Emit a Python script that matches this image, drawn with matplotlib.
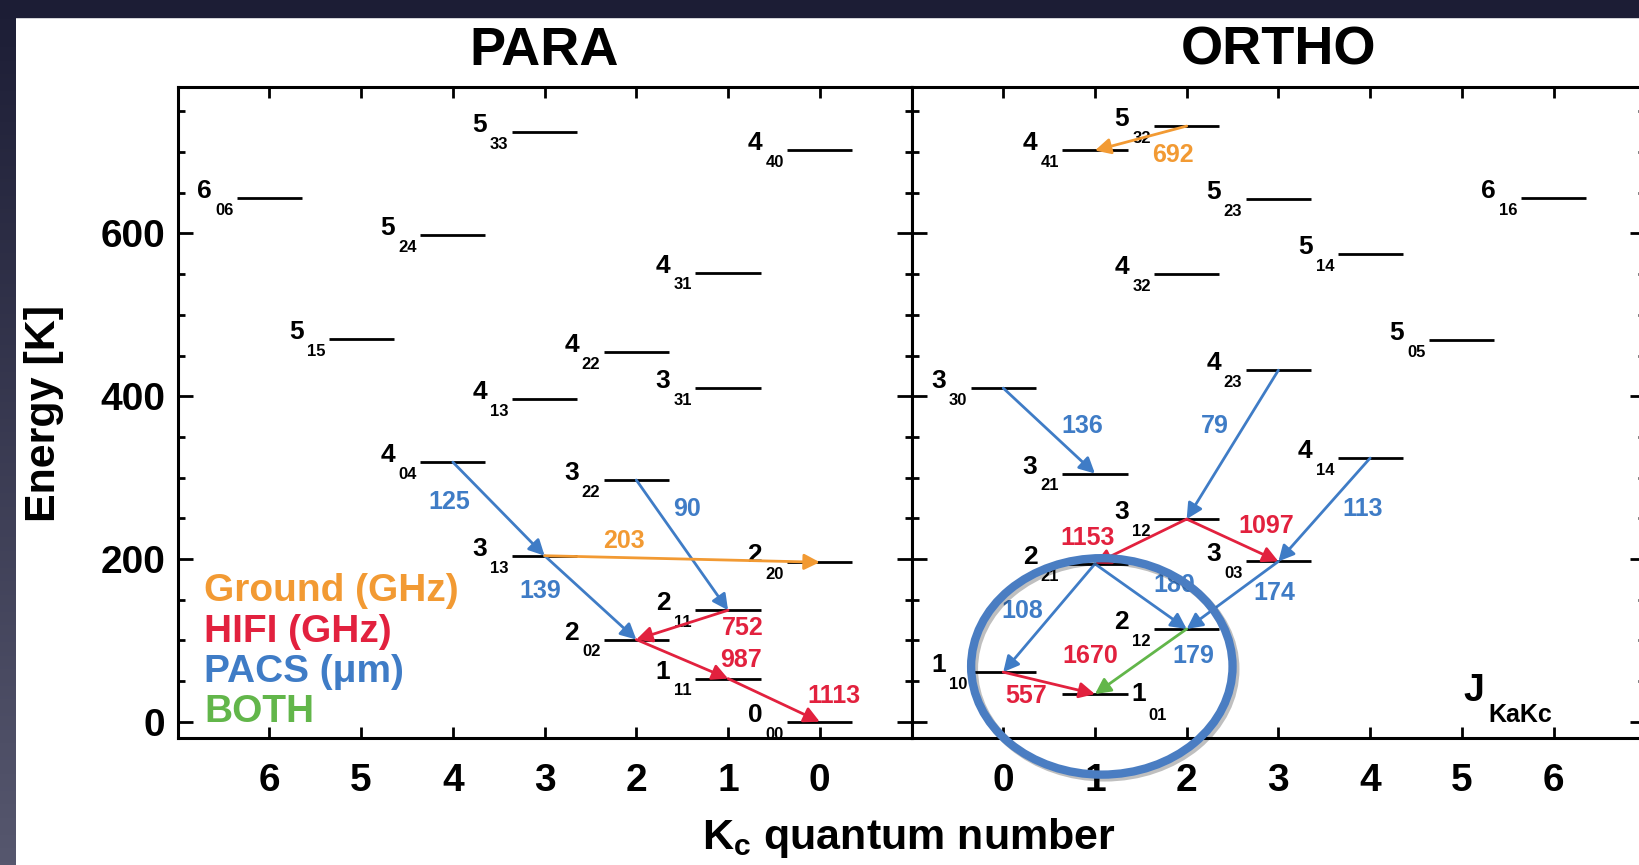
import matplotlib
matplotlib.use("Agg")
import matplotlib.pyplot as plt
import matplotlib.patheffects as pe
from matplotlib.patches import Ellipse, Rectangle
from matplotlib.ticker import MultipleLocator
import numpy as np

plt.rcParams['font.family'] = ['Liberation Sans', 'DejaVu Sans']
plt.rcParams['font.weight'] = 'bold'
plt.rcParams['mathtext.default'] = 'regular'

COLORS = {'ground': '#f29a33', 'hifi': '#e2213e', 'pacs': '#3f7cc6', 'both': '#62b64a'}

# water rotational levels, named J Ka Kc, energies in K
para_levels = ['000', '111', '202', '211', '220', '313', '322', '404', '331',
               '413', '422', '515', '431', '524', '606', '440', '533']
para_kc = [0, 1, 2, 1, 0, 3, 2, 4, 1, 3, 2, 5, 1, 4, 6, 0, 3]
para_energy = [0, 53, 101, 137, 196, 204, 297, 319, 410, 396, 454, 470, 552,
               598, 643, 702, 725]

ortho_levels = ['101', '110', '212', '221', '303', '312', '321', '414', '330',
                '423', '505', '432', '514', '523', '616', '441', '532']
ortho_kc = [1, 0, 2, 1, 3, 2, 1, 4, 0, 3, 5, 2, 4, 3, 6, 1, 2]
ortho_energy = [34, 61, 114, 194, 197, 249, 305, 324, 410, 432, 469, 550, 575,
                642, 644, 702, 732]

# transitions: upper level -> lower level, instrument, frequency (GHz) or wavelength (um)
para_upper = ['404', '313', '322', '313', '211', '202', '111']
para_lower = ['313', '202', '211', '220', '202', '111', '000']
para_band = ['pacs', 'pacs', 'pacs', 'ground', 'hifi', 'hifi', 'hifi']
para_value = ['125', '139', '90', '203', '752', '987', '1113']

ortho_upper = ['532', '330', '423', '414', '312', '312', '221', '221', '303', '212', '110']
ortho_lower = ['441', '321', '312', '303', '221', '303', '110', '212', '212', '101', '101']
ortho_band = ['ground', 'pacs', 'pacs', 'pacs', 'hifi', 'hifi', 'pacs', 'pacs', 'pacs', 'both', 'hifi']
ortho_value = ['692', '136', '79', '113', '1153', '1097', '108', '180', '174', '1670/179', '557']

legend_labels = ['Ground (GHz)', 'HIFI (GHz)', 'PACS (μm)', 'BOTH']
legend_bands = ['ground', 'hifi', 'pacs', 'both']

HALF = 0.355


def draw_levels(ax, names, kc, energy, right_side=()):
    kc = np.array(kc, dtype=float)
    energy = np.array(energy, dtype=float)
    ax.hlines(energy, kc - HALF, kc + HALF, color='k', lw=2.0, zorder=3)
    sign = 1 if ax.xaxis_inverted() else -1
    for name, k, e in zip(names, kc, energy):
        left = k + sign * HALF
        right = k - sign * HALF
        if name in right_side:
            ax.annotate(name[0], (right, e), xytext=(3, 0), textcoords='offset points',
                        ha='left', va='center', fontsize=19, zorder=4)
            ax.annotate(name[1:], (right, e), xytext=(15, -10), textcoords='offset points',
                        ha='left', va='top', fontsize=12, zorder=4)
        else:
            ax.annotate(name[0], (left, e), xytext=(-18, 0), textcoords='offset points',
                        ha='right', va='baseline', fontsize=19, zorder=4)
            ax.annotate(name[1:], (left, e), xytext=(-2.5, -3.5), textcoords='offset points',
                        ha='right', va='top', fontsize=12, zorder=4)


def draw_transitions(ax, names, kc, energy, upper, lower, band, value, label_xy):
    pos = {n: (k, e) for n, k, e in zip(names, kc, energy)}
    for up, lo, b, v, xy in zip(upper, lower, band, value, label_xy):
        ax.annotate('', xy=pos[lo], xytext=pos[up],
                    arrowprops=dict(arrowstyle='-|>,head_length=0.55,head_width=0.28',
                                    color=COLORS[b], lw=2.0, shrinkA=0, shrinkB=0,
                                    mutation_scale=17),
                    zorder=5)
        if b == 'both':
            ghz, um = v.split('/')
            ax.text(*xy[0], ghz, color=COLORS['hifi'], fontsize=18, ha='center', va='center', zorder=6)
            ax.text(*xy[1], um, color=COLORS['pacs'], fontsize=18, ha='center', va='center', zorder=6)
        else:
            ax.text(*xy, v, color=COLORS[b], fontsize=18, ha='center', va='center', zorder=6)


fig = plt.figure(figsize=(16.39, 8.65), dpi=100)
W, H = 1639, 865

# slide frame
grad = np.linspace(0, 1, 256).reshape(-1, 1)
bg = fig.add_axes([0, 0, 16 / W, 1])
bg.imshow(grad, aspect='auto', cmap=matplotlib.colors.LinearSegmentedColormap.from_list(
    'frame', ['#1c1d35', '#56576e']), extent=[0, 1, 1, 0])
bg.axis('off')
fig.patches.append(Rectangle((0, 1 - 17 / H), 1, 17 / H, transform=fig.transFigure,
                             color='#1c1d35', zorder=0))

bottom = 1 - 738 / H
height = 651 / H
width = 733.8 / W
ax1 = fig.add_axes([177.7 / W, bottom, width, height])
ax2 = fig.add_axes([911.5 / W, bottom, width, height])

for ax in (ax1, ax2):
    ax.set_ylim(-20, 780)
    ax.set_xticks(range(7))
    ax.set_yticks([0, 200, 400, 600])
    ax.yaxis.set_minor_locator(MultipleLocator(50))
    ax.tick_params(which='both', direction='in', top=True, right=True, width=2,
                   labelsize=28)
    ax.tick_params(axis='y', which='major', length=11, pad=9)
    ax.tick_params(axis='y', which='minor', length=5)
    ax.tick_params(axis='x', which='major', length=8, pad=18)
    for s in ax.spines.values():
        s.set_linewidth(2.2)

ax1.set_xlim(7, -1)
ax2.set_xlim(-1, 7)
ax2.tick_params(labelleft=False)

ax1.set_title('PARA', fontsize=39, fontweight='bold', pad=16)
ax2.set_title('ORTHO', fontsize=39, fontweight='bold', pad=16)

draw_levels(ax1, para_levels, para_kc, para_energy)
draw_levels(ax2, ortho_levels, ortho_kc, ortho_energy, right_side=('101',))

para_label_xy = [(4.04, 270), (3.05, 161), (1.45, 261), (2.14, 222),
                 (0.84, 115), (0.86, 76), (-0.15, 31)]
ortho_label_xy = [(1.85, 697), (0.86, 363), (2.31, 363), (3.92, 261),
                  (0.92, 226), (2.87, 241), (0.21, 136), (1.86, 168),
                  (2.95, 158), [(0.95, 81), (2.07, 81)], (0.25, 32)]

draw_transitions(ax1, para_levels, para_kc, para_energy, para_upper, para_lower,
                 para_band, para_value, para_label_xy)
draw_transitions(ax2, ortho_levels, ortho_kc, ortho_energy, ortho_upper, ortho_lower,
                 ortho_band, ortho_value, ortho_label_xy)

# instrument colour key
for i, (lab, b) in enumerate(zip(legend_labels, legend_bands)):
    ax1.text(6.71, 148 - 49.5 * i, lab, color=COLORS[b], fontsize=28,
             ha='left', va='baseline', zorder=6)

ax2.text(5.02, 25, 'J', fontsize=27, ha='left', va='baseline')
ax2.text(5.29, 0, 'KaKc', fontsize=18, ha='left', va='baseline')

# highlight the lowest ortho transitions
ring = Ellipse((1.075, 68), 2.85, 266, fill=False, ec='#4a7dc2', lw=6,
               clip_on=False, zorder=10)
ring.set_path_effects([pe.SimpleLineShadow(offset=(2, -2), shadow_color='k', alpha=0.25),
                       pe.Normal()])
ax2.add_patch(ring)

fig.text(44 / W, 1 - 413 / H, 'Energy [K]', rotation=90, fontsize=31,
         ha='center', va='center')
fig.text(909 / W, 1 - 849 / H, r'K$_{c}$ quantum number', fontsize=31,
         ha='center', va='baseline')

fig.savefig('out.png', dpi=100, facecolor='white')
